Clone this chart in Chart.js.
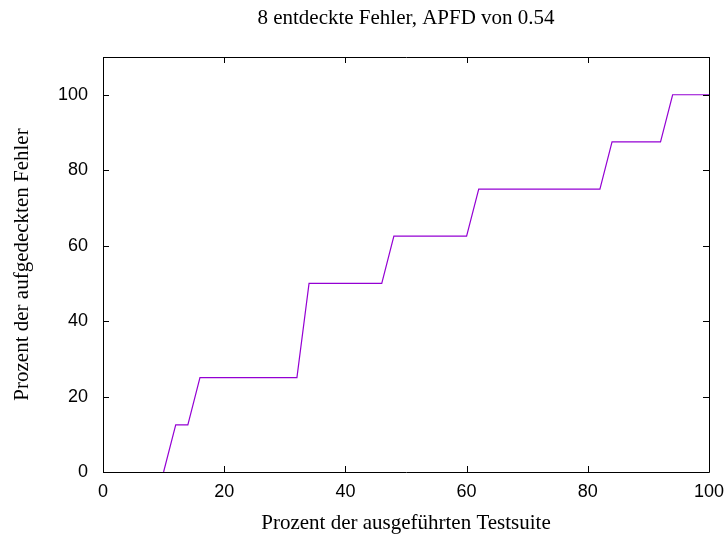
<!DOCTYPE html>
<html>
<head>
<meta charset="utf-8">
<script src="https://cdn.jsdelivr.net/npm/chart.js@4/dist/chart.umd.min.js"></script>
<style>
html,body{margin:0;padding:0;background:#fff;}
#wrap{width:726px;height:536px;}
</style>
</head>
<body>
<div id="wrap"><canvas id="c" width="726" height="536"></canvas></div>
<script>
const titleText = "8 entdeckte Fehler, APFD von 0.54";
const xTitle = "Prozent der ausgeführten Testsuite";
const yTitle = "Prozent der aufgedeckten Fehler";
const xValues = [10, 12, 14, 16, 32, 34, 46, 48, 60, 62, 82, 84, 92, 94, 100];
const yValues = [0, 12.5, 12.5, 25, 25, 50, 50, 62.5, 62.5, 75, 75, 87.5, 87.5, 100, 100];
const xTicks = [0, 20, 40, 60, 80, 100];
const yTicks = [0, 20, 40, 60, 80, 100];

const serif = "'Liberation Serif', 'Times New Roman', serif";
const sans = "'Liberation Sans', Arial, sans-serif";

const boxPlugin = {
  id: 'gnuplotBox',
  afterDraw(chart) {
    const {ctx, chartArea: a, scales: {x, y}} = chart;
    ctx.save();
    ctx.strokeStyle = '#000';
    ctx.lineWidth = 1;
    ctx.beginPath();
    ctx.rect(Math.round(a.left) + 0.5, Math.round(a.top) + 0.5, Math.round(a.right - a.left), Math.round(a.bottom - a.top));
    const L = 6;
    xTicks.forEach(v => {
      const px = Math.round(x.getPixelForValue(v)) + 0.5;
      ctx.moveTo(px, a.bottom); ctx.lineTo(px, a.bottom - L);
      ctx.moveTo(px, a.top); ctx.lineTo(px, a.top + L);
    });
    yTicks.forEach(v => {
      const py = Math.round(y.getPixelForValue(v)) + 0.5;
      ctx.moveTo(a.left, py); ctx.lineTo(a.left + L, py);
      ctx.moveTo(a.right, py); ctx.lineTo(a.right - L, py);
    });
    ctx.stroke();
    ctx.restore();
  }
};

new Chart(document.getElementById('c'), {
  type: 'line',
  data: {
    datasets: [{
      data: xValues.map((v, i) => ({x: v, y: yValues[i]})),
      borderColor: '#9400d3',
      borderWidth: 1.2,
      pointRadius: 0,
      fill: false,
      tension: 0
    }]
  },
  options: {
    responsive: false,
    animation: false,
    layout: {padding: {left: 0, right: 17, top: 0, bottom: 0}},
    plugins: {
      legend: {display: false},
      tooltip: {enabled: false},
      title: {display: false}
    },
    scales: {
      xTop: {
        type: 'linear',
        position: 'top',
        min: 0, max: 100,
        afterFit: s => { s.height = 57; s.paddingLeft = 0; s.paddingRight = 0; },
        grid: {display: false, drawTicks: false},
        border: {display: false},
        ticks: {display: false},
        title: {display: true, text: titleText, color: '#000', font: {family: serif, size: 21, lineHeight: 1.2}, padding: {top: 6, bottom: 0}}
      },
      x: {
        type: 'linear',
        position: 'bottom',
        min: 0, max: 100,
        afterBuildTicks: s => { s.ticks = xTicks.map(v => ({value: v})); },
        afterFit: s => { s.height = 64; s.paddingLeft = 0; s.paddingRight = 0; },
        grid: {display: false, drawTicks: false},
        border: {display: false},
        ticks: {color: '#000', padding: 9, font: {family: sans, size: 18}, maxRotation: 0},
        title: {display: true, text: xTitle, color: '#000', font: {family: serif, size: 21, lineHeight: 1.2}, padding: {top: 0, bottom: 0.4}}
      },
      y: {
        type: 'linear',
        min: 0, max: 110,
        afterBuildTicks: s => { s.ticks = yTicks.map(v => ({value: v})); },
        afterFit: s => { s.width = 103; s.paddingTop = 0; s.paddingBottom = 0; },
        grid: {display: false, drawTicks: false},
        border: {display: false},
        ticks: {color: '#000', padding: 15, font: {family: sans, size: 18}},
        title: {display: true, text: yTitle, color: '#000', font: {family: serif, size: 21, lineHeight: 1.2}, padding: {top: 10, bottom: 0}}
      }
    }
  },
  plugins: [boxPlugin]
});
</script>
</body>
</html>
